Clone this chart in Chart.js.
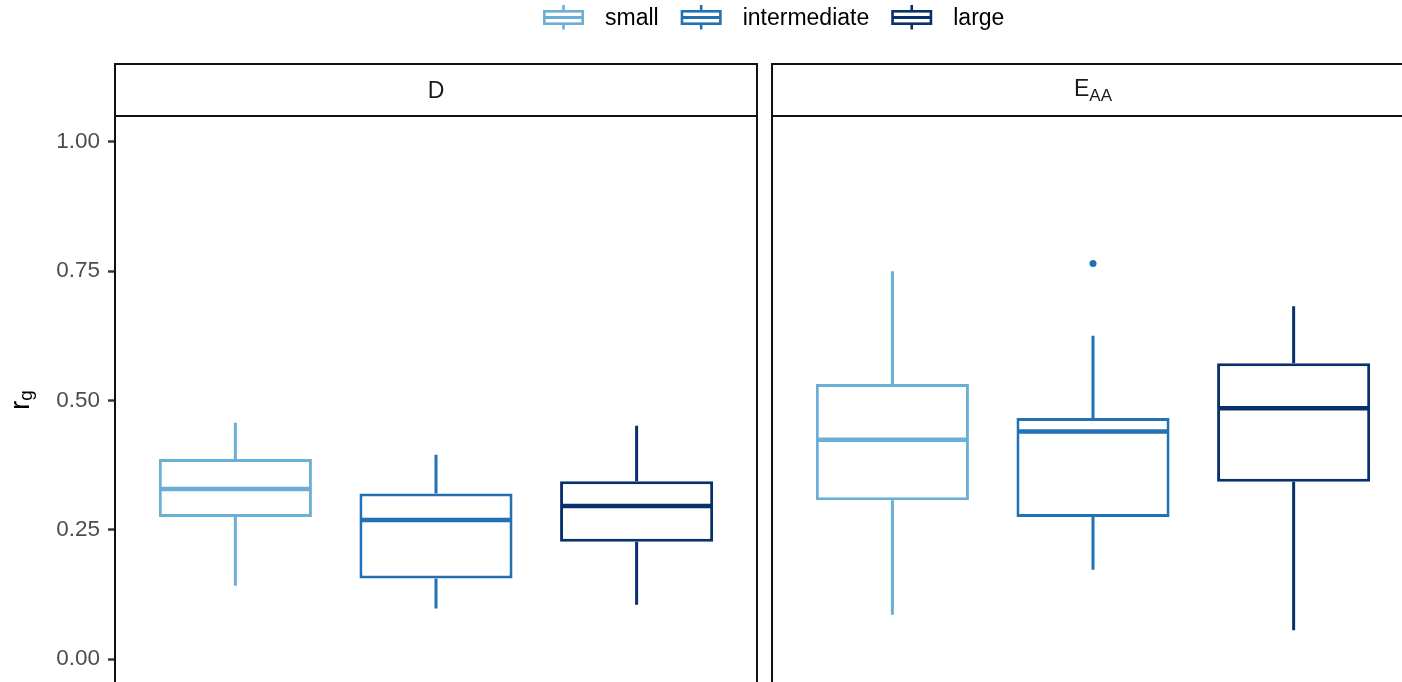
<!DOCTYPE html>
<html>
<head>
<meta charset="utf-8">
<script src="https://cdn.jsdelivr.net/npm/chart.js@4.4.1/dist/chart.umd.min.js"></script>
<style>
  html, body { margin: 0; padding: 0; background: #ffffff; overflow: hidden; }
  #wrap { width: 1402px; height: 682px; overflow: hidden; position: relative; }
  canvas { display: block; }
</style>
</head>
<body>
<div id="wrap"><canvas id="chart" width="1420" height="707"></canvas></div>
<script>
// Facet labels (main text + subscript)
const panelMain = ['D', 'E'];
const panelSub = ['', 'AA'];

// Groups shown in every facet
const groupNames = ['small', 'intermediate', 'large'];
const groupColors = ['#6BAED6', '#2171B5', '#08306B'];

// y axis ticks
const yTicks = [0, 0.25, 0.5, 0.75, 1.0];

// Five-number summaries, one row per facet:
// [lower whisker, Q1, median, Q3, upper whisker]
const small        = [[0.142, 0.275, 0.329, 0.387, 0.457], [0.086, 0.307, 0.424, 0.532, 0.750]];
const intermediate = [[0.098, 0.156, 0.269, 0.320, 0.395], [0.173, 0.275, 0.440, 0.466, 0.625]];
const large        = [[0.105, 0.227, 0.296, 0.344, 0.451], [0.056, 0.343, 0.485, 0.572, 0.682]];

// Points beyond the whiskers, one list per facet
const intermediateOutliers = [[], [0.765]];

const stats = [small, intermediate, large];

// Layout of the shared x axis: each facet spans 3.2 units, facets separated by a small gap
const X_MIN = 0.4;
const FACET_SPAN = 3.2;
const FACET_STEP = 3.275;
const X_MAX = X_MIN + FACET_STEP + FACET_SPAN;
const FONT = '"Liberation Sans", Arial, Helvetica, sans-serif';
const BOX_LW = 3.0;
const WHISKER_LW = 3.0;
const MEDIAN_LW = 4.6;
const LINE_DARK = '#111111';

const xPos = (panel, group) => FACET_STEP * panel + group + 1;

const datasets = stats.map((rows, g) => ({
  type: 'bar',
  label: groupNames[g],
  data: rows.map((s, p) => ({ x: xPos(p, g), y: [s[1], s[3]] })),
  backgroundColor: '#ffffff',
  borderColor: groupColors[g],
  borderWidth: BOX_LW,
  borderSkipped: false,
  grouped: false,
  barPercentage: 0.763,
  categoryPercentage: 1
}));

datasets.push({
  type: 'scatter',
  label: 'intermediate outliers',
  data: intermediateOutliers.flatMap((vals, p) => vals.map(v => ({ x: xPos(p, 1), y: v }))),
  backgroundColor: groupColors[1],
  borderWidth: 0,
  pointRadius: 3.5,
  pointHoverRadius: 3.5
});

// Whiskers, medians, facet frames, strips, legend and axis title
const facetPlugin = {
  id: 'facetBoxes',
  afterDatasetsDraw(chart) {
    const { ctx, scales: { y } } = chart;
    stats.forEach((rows, g) => {
      const meta = chart.getDatasetMeta(g);
      rows.forEach((s, p) => {
        const el = meta.data[p];
        const cx = el.x;
        const half = el.width / 2 - BOX_LW / 2;
        ctx.save();
        ctx.strokeStyle = groupColors[g];
        ctx.lineCap = 'butt';
        ctx.lineWidth = WHISKER_LW;
        ctx.beginPath();
        ctx.moveTo(cx, y.getPixelForValue(s[3]));
        ctx.lineTo(cx, y.getPixelForValue(s[4]));
        ctx.moveTo(cx, y.getPixelForValue(s[1]));
        ctx.lineTo(cx, y.getPixelForValue(s[0]));
        ctx.stroke();
        const my = y.getPixelForValue(s[2]);
        ctx.lineWidth = MEDIAN_LW;
        ctx.beginPath();
        ctx.moveTo(cx - half, my);
        ctx.lineTo(cx + half, my);
        ctx.stroke();
        ctx.restore();
      });
    });
  },
  afterDraw(chart) {
    const { ctx, chartArea, scales: { x } } = chart;
    const stripTop = 64;

    // facet frames and strips
    panelMain.forEach((main, p) => {
      const l = x.getPixelForValue(X_MIN + p * FACET_STEP);
      const r = x.getPixelForValue(X_MIN + FACET_SPAN + p * FACET_STEP);
      ctx.save();
      ctx.strokeStyle = LINE_DARK;
      ctx.lineWidth = 2;
      ctx.strokeRect(l, stripTop, r - l, chartArea.top - stripTop);
      ctx.strokeRect(l, chartArea.top, r - l, chartArea.bottom - chartArea.top);

      ctx.fillStyle = '#1A1A1A';
      ctx.textBaseline = 'alphabetic';
      ctx.textAlign = 'left';
      const mainFont = '23px ' + FONT;
      const subFont = '17px ' + FONT;
      ctx.font = mainFont;
      const wMain = ctx.measureText(main).width;
      ctx.font = subFont;
      const wSub = panelSub[p] ? ctx.measureText(panelSub[p]).width : 0;
      const cx = (l + r) / 2;
      const start = cx - (wMain + wSub) / 2;
      const base = panelSub[p] ? 96.2 : 97.6;
      ctx.font = mainFont;
      ctx.fillText(main, start, base);
      if (panelSub[p]) {
        ctx.font = subFont;
        ctx.fillText(panelSub[p], start + wMain, base + 4.6);
      }
      ctx.restore();
    });

    // legend
    ctx.save();
    ctx.font = '23px ' + FONT;
    ctx.textBaseline = 'middle';
    ctx.textAlign = 'left';
    let lx = 543;
    const gy = 10, gh = 15, gw = 41;
    groupNames.forEach((name, g) => {
      const col = groupColors[g];
      ctx.strokeStyle = col;
      ctx.fillStyle = '#ffffff';
      ctx.fillRect(lx, gy, gw, gh);
      ctx.lineWidth = 2.6;
      ctx.strokeRect(lx + 1.3, gy + 1.3, gw - 2.6, gh - 2.6);
      ctx.lineWidth = 2.8;
      ctx.beginPath();
      ctx.moveTo(lx + 1, gy + gh / 2);
      ctx.lineTo(lx + gw - 1, gy + gh / 2);
      ctx.stroke();
      ctx.lineWidth = 2.6;
      ctx.beginPath();
      ctx.moveTo(lx + gw / 2, gy - 5);
      ctx.lineTo(lx + gw / 2, gy);
      ctx.moveTo(lx + gw / 2, gy + gh);
      ctx.lineTo(lx + gw / 2, gy + gh + 4.5);
      ctx.stroke();
      ctx.fillStyle = '#000000';
      const tx = lx + 62;
      ctx.fillText(name, tx, 18.5);
      lx = tx + ctx.measureText(name).width + 22;
    });
    ctx.restore();

    // y axis title r_g
    ctx.save();
    ctx.translate(29, 400);
    ctx.rotate(-Math.PI / 2);
    ctx.fillStyle = '#000000';
    ctx.textBaseline = 'alphabetic';
    ctx.textAlign = 'left';
    const rFont = '27px ' + FONT, gFont = '19px ' + FONT;
    ctx.font = rFont;
    const wr = ctx.measureText('r').width;
    ctx.font = gFont;
    const wg = ctx.measureText('g').width;
    const s0 = -(wr + wg) / 2;
    ctx.font = rFont;
    ctx.fillText('r', s0, 0);
    ctx.font = gFont;
    ctx.fillText('g', s0 + wr, 2.5);
    ctx.restore();
  }
};

new Chart(document.getElementById('chart'), {
  type: 'bar',
  data: { datasets },
  options: {
    responsive: false,
    maintainAspectRatio: false,
    animation: false,
    events: [],
    layout: { padding: { left: 0, right: 6, top: 116, bottom: 22 } },
    plugins: {
      legend: { display: false },
      tooltip: { enabled: false }
    },
    scales: {
      x: {
        type: 'linear',
        min: X_MIN,
        max: X_MAX,
        offset: false,
        display: false,
        afterBuildTicks: (axis) => { axis.ticks = []; }
      },
      y: {
        type: 'linear',
        position: 'left',
        min: -0.05,
        max: 1.05,
        afterBuildTicks: (axis) => { axis.ticks = yTicks.map(v => ({ value: v })); },
        afterFit: (axis) => { axis.width = 115; },
        border: { display: false },
        grid: {
          display: true,
          drawOnChartArea: false,
          drawTicks: true,
          tickLength: 7,
          tickColor: '#333333',
          tickWidth: 2.4
        },
        ticks: {
          color: '#4D4D4D',
          padding: 8,
          font: { family: FONT, size: 22.5 },
          callback: (v) => Number(v).toFixed(2)
        }
      }
    }
  },
  plugins: [facetPlugin]
});
</script>
</body>
</html>
